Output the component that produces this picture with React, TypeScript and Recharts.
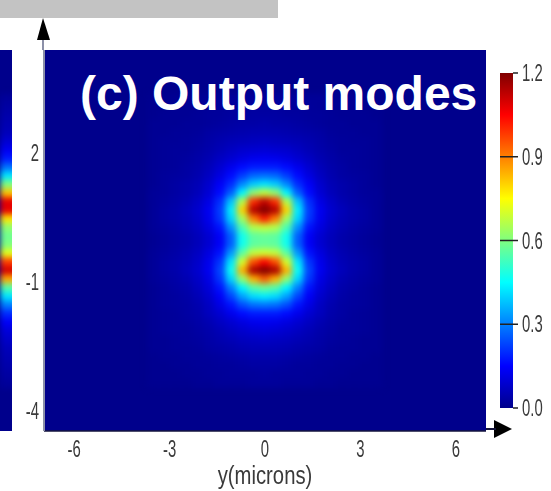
import { BarChart, Bar, ScatterChart, Scatter, XAxis, YAxis, ReferenceArea, ReferenceLine } from 'recharts'

const xTicks = [-6, -3, 0, 3, 6]
const yTicks = [2, -1, -4]
const scaleTicks = [0, 0.3, 0.6, 0.9, 1.2]
const xDomain: [number, number] = [-6.95, 6.95]
const yDomain: [number, number] = [-4.46, 4.38]

const columnsX = [-3.5, -3.15, -2.8, -2.45, -2.1, -1.75, -1.4, -1.05, -0.7, -0.35, 0, 0.35, 0.7, 1.05, 1.4, 1.75, 2.1, 2.45, 2.8, 3.15, 3.5]
const rowsY = [3.25, 3.05, 2.85, 2.65, 2.45, 2.25, 2.05, 1.85, 1.65, 1.45, 1.25, 1.05, 0.85, 0.65, 0.45, 0.25, 0.05, -0.15, -0.35, -0.55, -0.75, -0.95, -1.15, -1.35, -1.55, -1.75, -1.95, -2.15, -2.35, -2.55, -2.75, -2.95, -3.15, -3.35]

// one row per rowsY entry
const heatValues = [
  [.005,.005,.01,.01,.01,.015,.015,.02,.02,.02,.02,.02,.02,.02,.015,.015,.01,.01,.01,.005,.005],
  [.005,.005,.01,.01,.01,.015,.02,.02,.02,.025,.025,.025,.02,.02,.02,.015,.01,.01,.01,.005,.005],
  [.005,.01,.01,.01,.015,.02,.02,.025,.025,.03,.03,.03,.025,.025,.02,.02,.015,.01,.01,.01,.005],
  [.01,.01,.01,.015,.015,.02,.025,.03,.035,.035,.04,.035,.035,.03,.025,.02,.015,.015,.01,.01,.01],
  [.01,.01,.015,.015,.02,.03,.035,.04,.045,.05,.05,.05,.045,.04,.035,.03,.02,.015,.015,.01,.01],
  [.01,.015,.015,.02,.025,.035,.045,.055,.06,.065,.07,.065,.06,.055,.045,.035,.025,.02,.015,.015,.01],
  [.01,.015,.02,.02,.03,.04,.055,.07,.085,.09,.095,.09,.085,.07,.055,.04,.03,.02,.02,.015,.01],
  [.01,.015,.02,.025,.035,.05,.07,.09,.11,.125,.13,.125,.11,.09,.07,.05,.035,.025,.02,.015,.01],
  [.01,.015,.02,.03,.04,.06,.09,.125,.16,.18,.18,.18,.16,.125,.09,.06,.04,.03,.02,.015,.01],
  [.01,.02,.025,.03,.045,.07,.11,.16,.22,.27,.28,.27,.22,.16,.11,.07,.045,.03,.025,.02,.01],
  [.01,.02,.03,.04,.055,.085,.14,.2,.31,.39,.42,.39,.31,.2,.14,.085,.055,.04,.03,.02,.01],
  [.015,.02,.03,.04,.06,.095,.16,.26,.44,.62,.68,.62,.44,.26,.16,.095,.06,.04,.03,.02,.015],
  [.015,.025,.035,.05,.075,.115,.2,.38,.66,1.0,1.12,1.0,.66,.38,.2,.115,.075,.05,.035,.025,.015],
  [.015,.03,.04,.06,.085,.13,.22,.43,.8,1.14,1.22,1.14,.8,.43,.22,.13,.085,.06,.04,.03,.015],
  [.015,.03,.04,.055,.08,.125,.21,.4,.64,.9,1.02,.9,.64,.4,.21,.125,.08,.055,.04,.03,.015],
  [.015,.025,.035,.05,.07,.11,.17,.32,.54,.66,.68,.66,.54,.32,.17,.11,.07,.05,.035,.025,.015],
  [.01,.02,.03,.04,.06,.09,.14,.26,.47,.56,.57,.56,.47,.26,.14,.09,.06,.04,.03,.02,.01],
  [.01,.02,.03,.04,.06,.09,.14,.26,.47,.56,.57,.56,.47,.26,.14,.09,.06,.04,.03,.02,.01],
  [.015,.025,.035,.05,.07,.11,.17,.33,.56,.68,.7,.68,.56,.33,.17,.11,.07,.05,.035,.025,.015],
  [.015,.03,.04,.055,.08,.125,.21,.42,.7,.96,1.05,.96,.7,.42,.21,.125,.08,.055,.04,.03,.015],
  [.015,.03,.04,.06,.085,.13,.23,.46,.84,1.15,1.22,1.15,.84,.46,.23,.13,.085,.06,.04,.03,.015],
  [.015,.025,.035,.05,.075,.115,.21,.4,.62,.84,.94,.84,.62,.4,.21,.115,.075,.05,.035,.025,.015],
  [.01,.02,.03,.04,.065,.1,.17,.3,.44,.55,.58,.55,.44,.3,.17,.1,.065,.04,.03,.02,.01],
  [.01,.02,.025,.035,.055,.085,.14,.23,.34,.41,.43,.41,.34,.23,.14,.085,.055,.035,.025,.02,.01],
  [.01,.02,.025,.03,.045,.07,.115,.17,.24,.28,.29,.28,.24,.17,.115,.07,.045,.03,.025,.02,.01],
  [.01,.015,.02,.03,.04,.065,.09,.125,.16,.18,.18,.18,.16,.125,.09,.065,.04,.03,.02,.015,.01],
  [.01,.015,.02,.025,.035,.05,.07,.09,.11,.125,.13,.125,.11,.09,.07,.05,.035,.025,.02,.015,.01],
  [.01,.015,.02,.02,.03,.04,.055,.07,.085,.095,.1,.095,.085,.07,.055,.04,.03,.02,.02,.015,.01],
  [.01,.01,.015,.02,.025,.035,.045,.055,.065,.07,.075,.07,.065,.055,.045,.035,.025,.02,.015,.01,.01],
  [.01,.01,.015,.015,.02,.03,.035,.04,.05,.055,.055,.055,.05,.04,.035,.03,.02,.015,.015,.01,.01],
  [.005,.01,.01,.015,.015,.02,.025,.03,.035,.04,.04,.04,.035,.03,.025,.02,.015,.015,.01,.01,.005],
  [.005,.005,.01,.01,.015,.015,.02,.02,.025,.03,.03,.03,.025,.02,.02,.015,.015,.01,.01,.005,.005],
  [.005,.005,.005,.01,.01,.015,.015,.02,.02,.02,.025,.02,.02,.02,.015,.015,.01,.01,.005,.005,.005],
  [.005,.005,.005,.005,.01,.01,.015,.015,.015,.02,.02,.02,.015,.015,.015,.01,.01,.005,.005,.005,.005],
]

// the edge of the neighbouring panel, cut off on the left
const neighbourValues = [.02, .03, .04, .05, .06, .09, .13, .18, .28, .42, .6, .82, 1.08, 1.08, .78, .62, .58, .6, .72, .98, 1.1, .85, .55, .42, .3, .2, .14, .1, .08, .06, .05, .04, .03, .02]

const scaleBar = [{ name: 'scale', value: 1.2 }]

const jetStops: [number, number[]][] = [
  [0, [0, 0, 140]],
  [0.15, [0, 0, 255]],
  [0.45, [0, 255, 255]],
  [0.75, [255, 255, 0]],
  [1.05, [255, 0, 0]],
  [1.2, [128, 0, 0]],
]

function jet(v: number) {
  for (let i = 1; i < jetStops.length; i++) {
    const [v0, c0] = jetStops[i - 1]
    const [v1, c1] = jetStops[i]
    if (v <= v1) {
      const t = (v - v0) / (v1 - v0)
      return `rgb(${c0.map((c, k) => Math.round(c + (c1[k] - c) * t)).join(',')})`
    }
  }
  return 'rgb(128,0,0)'
}

const heatCells = rowsY.flatMap((y, i) => columnsX.map((x, j) => ({ x, y, v: heatValues[i][j] })))
const neighbourCells = rowsY.map((y, i) => ({ x: 0.5, y, v: neighbourValues[i] }))

function HeatCell(props: any) {
  const { cx, cy, payload, cellW = 12.5, cellH = 10 } = props
  return <rect x={cx - cellW / 2} y={cy - cellH / 2} width={cellW} height={cellH} fill={jet(payload.v)} />
}

const NAVY = 'rgb(0,0,140)'
const LABEL_FONT = '"Liberation Sans", Arial, sans-serif'
const INK = '#3a3a3a'

// the labels in the picture are squeezed sideways
function NarrowTick(props: any) {
  const { x, y, payload, anchor = 'middle', dx = 0, dy = 0, digits } = props
  const label = digits !== undefined ? payload.value.toFixed(digits) : payload.value
  return (
    <text transform={`translate(${x + dx},${y + dy}) scale(0.62,1)`} textAnchor={anchor} fontSize={24} fontFamily={LABEL_FONT} fill={INK}>
      {label}
    </text>
  )
}

function AxisTitle(props: any) {
  const { viewBox } = props
  return (
    <text transform={`translate(${viewBox.x + viewBox.width / 2},484) scale(0.78,1)`} textAnchor="middle" fontSize={26} fontFamily={LABEL_FONT} fill={INK}>
      y(microns)
    </text>
  )
}

export default function App() {
  return (
    <div style={{ position: 'absolute', left: 0, top: 0, width: 551, height: 491, overflow: 'hidden', background: '#fff' }}>
      <style>{`.heat .recharts-scatter { filter: blur(3px); } .soft text { filter: blur(0.5px); }`}</style>

      <div style={{ position: 'absolute', left: 0, top: 0, width: 278, height: 18, background: '#c3c3c3' }} />

      {/* neighbouring panel sliver */}
      <div className="heat" style={{ position: 'absolute', left: 0, top: 0, width: 12, height: 491, overflow: 'hidden' }}>
        <ScatterChart width={60} height={491} margin={{ top: 50, bottom: 60, left: 0, right: 0 }}>
          <XAxis type="number" dataKey="x" domain={[0, 1]} hide />
          <YAxis type="number" dataKey="y" domain={yDomain} hide />
          <ReferenceArea x1={0} x2={1} y1={yDomain[0]} y2={yDomain[1]} fill={NAVY} fillOpacity={1} stroke="none" />
          <Scatter data={neighbourCells} isAnimationActive={false} shape={(p: any) => <HeatCell {...p} cellW={60} />} />
        </ScatterChart>
      </div>

      {/* main panel */}
      <div className="heat soft" style={{ position: 'absolute', left: 0, top: 0 }}>
        <ScatterChart width={551} height={491} margin={{ top: 50, right: 65, bottom: 0, left: 0 }}>
          <XAxis
            type="number"
            dataKey="x"
            domain={xDomain}
            ticks={xTicks}
            height={60}
            tickLine={false}
            axisLine={{ stroke: '#14143c', strokeWidth: 1.5 }}
            tick={<NarrowTick dy={18} />}
            label={<AxisTitle />}
          />
          <YAxis
            type="number"
            dataKey="y"
            domain={yDomain}
            ticks={yTicks}
            width={44}
            tickLine={false}
            axisLine={{ stroke: '#8c90a8', strokeWidth: 2 }}
            tick={<NarrowTick anchor="end" dx={3} dy={8} />}
          />
          <ReferenceArea x1={xDomain[0]} x2={xDomain[1]} y1={yDomain[0]} y2={yDomain[1]} fill={NAVY} fillOpacity={1} stroke="none" />
          <Scatter data={heatCells} isAnimationActive={false} shape={(p: any) => <HeatCell {...p} />} />
        </ScatterChart>
      </div>

      <div style={{ position: 'absolute', left: 80, top: 69, fontFamily: LABEL_FONT, fontWeight: 700, fontSize: 48, color: '#fff', whiteSpace: 'nowrap', lineHeight: '50px' }}>
        (c) Output modes
      </div>

      {/* colour bar */}
      <div className="soft" style={{ position: 'absolute', left: 500, top: 0 }}>
        <BarChart width={51} height={491} data={scaleBar} barCategoryGap={0} margin={{ top: 73, right: 0, bottom: 83, left: 0 }}>
          <defs>
            <linearGradient id="jetBar" x1="0" y1="1" x2="0" y2="0">
              {jetStops.map(([v, c]) => (
                <stop key={v} offset={v / 1.2} stopColor={`rgb(${c.join(',')})`} />
              ))}
            </linearGradient>
          </defs>
          <XAxis dataKey="name" hide />
          <YAxis
            orientation="right"
            domain={[0, 1.2]}
            ticks={scaleTicks}
            width={38}
            axisLine={false}
            tickLine={{ stroke: '#222', strokeWidth: 1.5 }}
            tickSize={5}
            tick={<NarrowTick anchor="start" digits={1} dx={2} dy={8} />}
          />
          <Bar dataKey="value" fill="url(#jetBar)" isAnimationActive={false} />
          {scaleTicks.slice(1, 4).map((t) => (
            <ReferenceLine key={t} y={t} stroke="#222" strokeWidth={1.5} />
          ))}
        </BarChart>
      </div>

      {/* axis arrow heads */}
      <svg width={551} height={491} style={{ position: 'absolute', left: 0, top: 0, pointerEvents: 'none' }}>
        <polygon points="43,18 37,40 50,40" fill="#000" />
        <rect x={42} y={40} width={2} height={10} fill="#8c90a8" />
        <polygon points="512,429 494,420 494,438" fill="#000" />
        <rect x={486} y={428} width={10} height={2} fill="#14143c" />
      </svg>
    </div>
  )
}
